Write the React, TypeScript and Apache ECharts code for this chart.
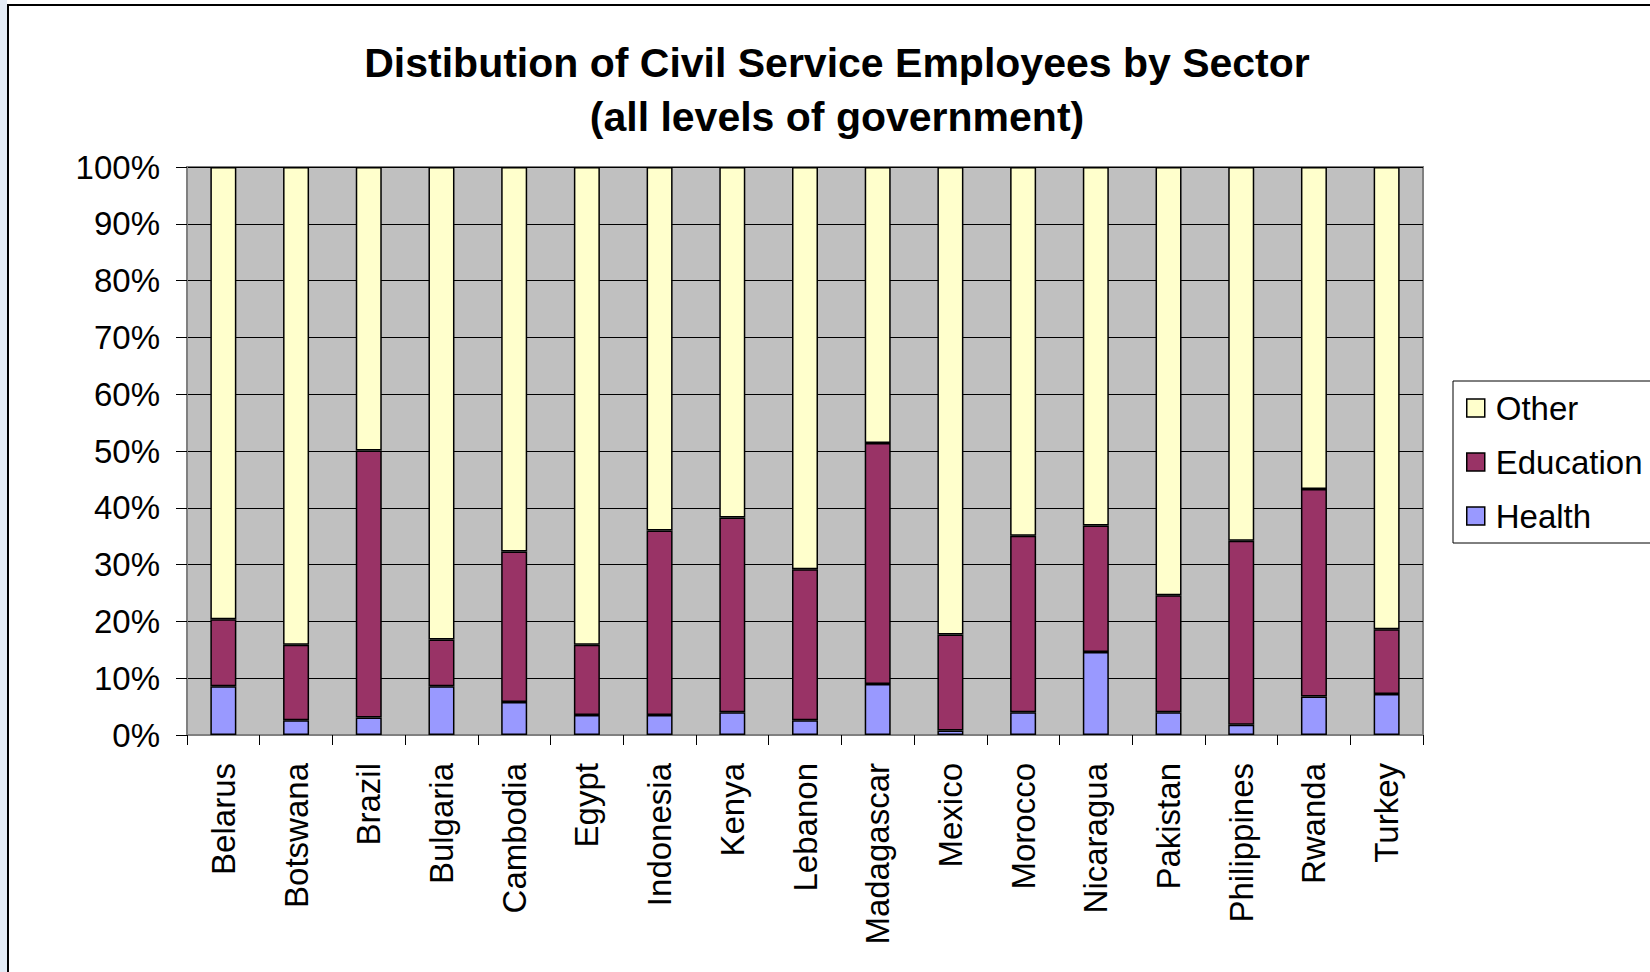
import React, { useEffect, useRef } from "react";
import * as echarts from "echarts";

const categories = [
  "Belarus", "Botswana", "Brazil", "Bulgaria", "Cambodia", "Egypt", "Indonesia", "Kenya",
  "Lebanon", "Madagascar", "Mexico", "Morocco", "Nicaragua", "Pakistan", "Philippines", "Rwanda", "Turkey",
];
const health = [8.6, 2.6, 3.1, 8.6, 5.8, 3.5, 3.5, 4.0, 2.6, 9.0, 0.8, 4.0, 14.6, 4.0, 1.8, 6.8, 7.2];
const education = [11.8, 13.3, 47.0, 8.2, 26.5, 12.4, 32.5, 34.3, 26.6, 42.4, 16.9, 31.1, 22.3, 20.6, 32.4, 36.5, 11.4];
const other = [79.6, 84.1, 49.9, 83.2, 67.7, 84.1, 64.0, 61.7, 70.8, 48.6, 82.3, 64.9, 63.1, 75.4, 65.8, 56.7, 81.4];
const legendOrder = ["Other", "Education", "Health"];

const FONT = "'Liberation Sans', Arial, Helvetica, sans-serif";

export default function App() {
  const ref = useRef<HTMLDivElement>(null);
  useEffect(() => {
    if (!ref.current) return;
    const chart = echarts.init(ref.current, undefined, { renderer: "svg" });
    const barBase = {
      type: "bar" as const,
      stack: "total",
      barWidth: 26,
    };
    chart.setOption({
      animation: false,
      backgroundColor: "#ffffff",
      textStyle: { fontFamily: FONT },
      title: {
        text: "Distibution of Civil Service Employees by Sector\n(all levels of government)",
        left: 832,
        textAlign: "center",
        top: 31,
        textStyle: { fontSize: 41, fontWeight: "bold", color: "#000", lineHeight: 54, fontFamily: FONT },
      },
      graphic: [
        { type: "rect", shape: { x: 0, y: 0, width: 7, height: 972 }, style: { fill: "#e4ecf6" }, z: -10 },
        { type: "rect", shape: { x: 8, y: 5, width: 1700, height: 1000 }, style: { fill: "none", stroke: "#000", lineWidth: 2 }, z: -5 },
        { type: "rect", shape: { x: 1453, y: 381, width: 260, height: 162 }, style: { fill: "#fff", stroke: "#000", lineWidth: 1 }, z: 0 },
      ],
      legend: {
        data: legendOrder,
        orient: "vertical",
        left: 1466,
        top: 390,
        padding: 0,
        itemWidth: 18,
        itemHeight: 18,
        itemGap: 18,
        icon: "rect",
        itemStyle: { borderColor: "#000", borderWidth: 1.5 },
        textStyle: { fontSize: 33, color: "#000", lineHeight: 36, fontFamily: FONT, padding: [0, 0, 0, 6] },
        z: 5,
      },
      grid: {
        left: 187,
        right: 227,
        top: 167,
        bottom: 237,
        show: true,
        backgroundColor: "#C0C0C0",
        borderColor: "#808080",
        borderWidth: 2,
        containLabel: false,
      },
      xAxis: {
        type: "category",
        data: categories,
        axisLine: { lineStyle: { color: "#808080", width: 2 } },
        axisTick: { show: true, length: 10, lineStyle: { color: "#000", width: 1 } },
        axisLabel: { rotate: 90, margin: 28, fontSize: 33, color: "#000", fontFamily: FONT },
        splitLine: { show: false },
      },
      yAxis: {
        type: "value",
        min: 0,
        max: 100,
        interval: 10,
        axisLine: { show: true, lineStyle: { color: "#808080", width: 2 } },
        axisTick: { show: true, length: 11, lineStyle: { color: "#000", width: 1 } },
        axisLabel: { formatter: "{value}%", margin: 27, fontSize: 33, color: "#000", fontFamily: FONT },
        splitLine: { show: true, lineStyle: { color: "#000", width: 1 } },
      },
      series: [
        { ...barBase, name: "Health", data: health, itemStyle: { color: "#9999FF", borderColor: "#000", borderWidth: 1.5 } },
        { ...barBase, name: "Education", data: education, itemStyle: { color: "#993366", borderColor: "#000", borderWidth: 1.5 } },
        { ...barBase, name: "Other", data: other, itemStyle: { color: "#FFFFCC", borderColor: "#000", borderWidth: 1.5 } },
      ],
    });
    return () => chart.dispose();
  }, []);
  return (
    <div
      ref={ref}
      style={{ position: "absolute", left: 0, top: 0, width: 1650, height: 972 }}
    />
  );
}
